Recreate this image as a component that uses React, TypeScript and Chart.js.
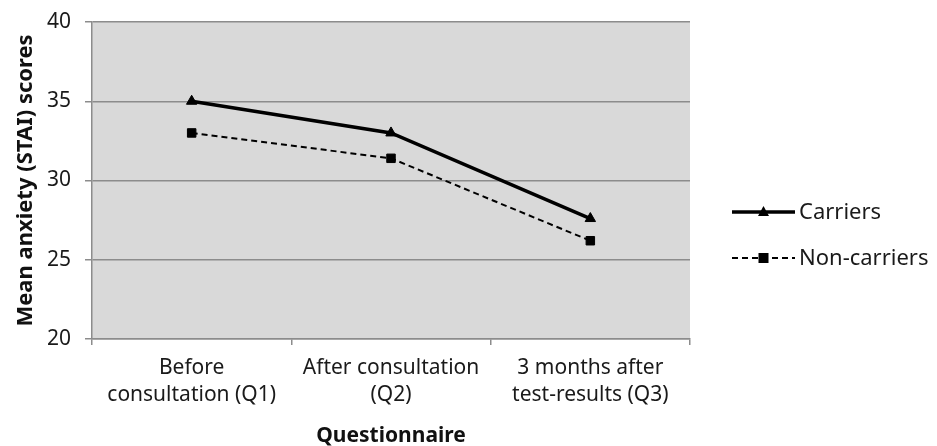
import React, { useEffect, useRef } from "react";
import { Chart, registerables } from "chart.js";

Chart.register(...registerables);

const categories: string[][] = [
  ["Before", "consultation (Q1)"],
  ["After consultation", "(Q2)"],
  ["3 months after", "test-results (Q3)"],
];
const carriers = [35.0, 33.0, 27.6];
const nonCarriers = [33.0, 31.4, 26.2];
const yTicks = [20, 25, 30, 35, 40];
const seriesNames = ["Carriers", "Non-carriers"];

const FONT = "'Noto Sans', 'Open Sans', sans-serif";

const bgPlugin = {
  id: "plotBg",
  beforeDraw(chart: any) {
    const { ctx, chartArea } = chart;
    ctx.save();
    ctx.fillStyle = "#d9d9d9";
    ctx.fillRect(chartArea.left, chartArea.top, chartArea.right - chartArea.left, chartArea.bottom - chartArea.top);
    ctx.restore();
  },
};

const legendPlugin = {
  id: "lineLegend",
  afterDraw(chart: any) {
    const { ctx, chartArea } = chart;
    const x0 = chartArea.right + 42;
    const x1 = x0 + 63;
    const ys = [212, 258];
    chart.data.datasets.forEach((ds: any, i: number) => {
      const y = ys[i];
      ctx.save();
      ctx.strokeStyle = ds.borderColor;
      ctx.lineWidth = ds.borderWidth;
      ctx.setLineDash(ds.borderDash || []);
      ctx.beginPath();
      ctx.moveTo(x0, y);
      ctx.lineTo(x1, y);
      ctx.stroke();
      ctx.setLineDash([]);
      ctx.fillStyle = "#000";
      const cx = (x0 + x1) / 2;
      if (ds.pointStyle === "triangle") {
        ctx.beginPath();
        ctx.moveTo(cx, y - 6);
        ctx.lineTo(cx + 5.5, y + 4);
        ctx.lineTo(cx - 5.5, y + 4);
        ctx.closePath();
        ctx.fill();
      } else {
        ctx.fillRect(cx - 5, y - 5, 10, 10);
      }
      ctx.font = `22px ${FONT}`;
      ctx.textBaseline = "middle";
      ctx.textAlign = "left";
      ctx.fillStyle = "#1a1a1a";
      ctx.fillText(ds.label, x1 + 4, y + 1);
      ctx.restore();
    });
  },
};

export default function App() {
  const ref = useRef<HTMLCanvasElement | null>(null);
  useEffect(() => {
    if (!ref.current) return;
    const chart = new Chart(ref.current, {
      type: "line",
      data: {
        labels: categories,
        datasets: [
          {
            label: seriesNames[0],
            data: carriers,
            borderColor: "#000",
            backgroundColor: "#000",
            borderWidth: 3.5,
            pointStyle: "triangle",
            pointRadius: 6,
            pointBorderWidth: 1,
            tension: 0,
          },
          {
            label: seriesNames[1],
            data: nonCarriers,
            borderColor: "#000",
            backgroundColor: "#000",
            borderWidth: 2,
            borderDash: [6, 4],
            pointStyle: "rect",
            pointRadius: 6,
            pointBorderWidth: 1,
            tension: 0,
          },
        ],
      },
      options: {
        animation: false,
        responsive: false,
        layout: { padding: { top: 22, right: 247, bottom: 0, left: 0 } },
        plugins: { legend: { display: false }, tooltip: { enabled: false } },
        scales: {
          x: {
            offset: true,
            grid: { offset: true, drawOnChartArea: false, drawTicks: true, tickLength: 6, color: "#8c8c8c", lineWidth: 1.5 },
            border: { color: "#8c8c8c", width: 1.5 },
            ticks: { color: "#1a1a1a", font: { family: FONT, size: 21, lineHeight: 1.3 }, padding: 9, maxRotation: 0, autoSkip: false },
            title: { display: true, text: "Questionnaire", color: "#111", font: { family: FONT, size: 21, weight: "bold" }, padding: { top: 4, bottom: -3 } },
            afterFit(scale: any) {
              scale.height = 107;
              scale.paddingLeft = 0;
              scale.paddingRight = 0;
            },
          },
          y: {
            min: 20,
            max: 40,
            afterBuildTicks(scale: any) {
              scale.ticks = yTicks.map((v) => ({ value: v }));
            },
            grid: { color: "#8c8c8c", lineWidth: 1.5, tickLength: 7 },
            border: { color: "#8c8c8c", width: 1.5 },
            ticks: { color: "#1a1a1a", font: { family: FONT, size: 21 }, padding: 14 },
            title: { display: true, text: "Mean anxiety (STAI) scores", color: "#111", font: { family: FONT, size: 22, weight: "bold" }, padding: { top: 13, bottom: 0 } },
            afterFit(scale: any) {
              scale.width = 92;
              scale.paddingTop = 0;
              scale.paddingBottom = 0;
            },
          },
        },
      },
      plugins: [bgPlugin, legendPlugin],
    });
    return () => chart.destroy();
  }, []);
  return (
    <div style={{ position: "fixed", left: 0, top: 0, width: 937, height: 446, background: "#fff" }}>
      <canvas ref={ref} width={937} height={446} style={{ display: "block" }} />
    </div>
  );
}
